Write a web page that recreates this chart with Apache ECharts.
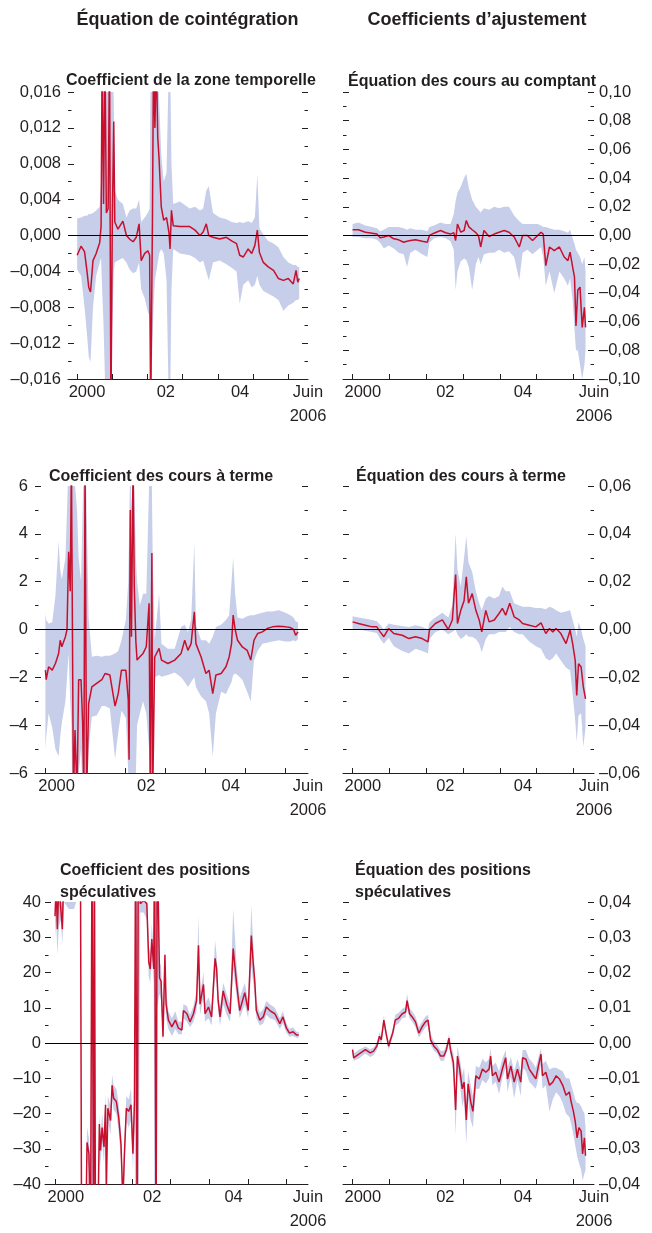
<!DOCTYPE html>
<html>
<head>
<meta charset="utf-8">
<script src="https://cdn.jsdelivr.net/npm/echarts@6.0.0/dist/echarts.min.js"></script>
<style>
html,body{margin:0;padding:0;background:#fff;}
#c{width:652px;height:1233px;}
</style>
</head>
<body>
<div id="c"></div>
<script>
// ---------- DATA ----------
// Panel 1: Coefficient de la zone temporelle
const p1Years = [2000.00,2000.11,2000.21,2000.28,2000.33,2000.38,2000.45,2000.54,2000.64,2000.68,
  2000.71,2000.75,2000.79,2000.83,2000.88,2000.92,2000.96,2001.00,2001.04,2001.07,
  2001.16,2001.30,2001.40,2001.49,2001.59,2001.68,2001.76,2001.82,2001.92,2002.01,
  2002.06,2002.09,2002.14,2002.17,2002.21,2002.25,2002.29,2002.33,2002.39,2002.46,
  2002.54,2002.61,2002.64,2002.68,2002.73,2002.92,2003.20,2003.35,2003.49,2003.58,
  2003.67,2003.74,2003.86,2004.05,2004.24,2004.39,2004.53,2004.62,2004.72,2004.86,
  2004.96,2005.05,2005.12,2005.18,2005.29,2005.43,2005.58,2005.72,2005.86,2006.00,
  2006.14,2006.22,2006.27,2006.31];
const p1Line = [-0.0022,-0.0012,-0.0018,-0.0040,-0.0058,-0.0063,-0.0028,-0.0020,-0.0008,0.0010,
  0.0200,0.0035,0.0200,0.0025,0.0030,0.0200,-0.0200,0.0020,0.0127,0.0015,
  0.0007,0.0016,0.0000,-0.0004,-0.0007,-0.0002,0.0013,-0.0028,-0.0020,-0.0017,
  -0.0022,-0.0200,0.0020,0.0200,0.0120,0.0200,0.0110,0.0084,0.0032,0.0017,
  0.0020,0.0003,-0.0015,0.0028,0.0011,0.0010,0.0010,0.0006,0.0000,0.0004,
  0.0013,0.0000,-0.0002,-0.0004,-0.0002,-0.0006,-0.0009,-0.0022,-0.0024,-0.0015,
  -0.0020,-0.0011,0.0006,-0.0019,-0.0030,-0.0035,-0.0039,-0.0048,-0.0050,-0.0048,
  -0.0054,-0.0039,-0.0052,-0.0048];
const p1Low = [-0.0038,-0.0045,-0.0080,-0.0110,-0.0135,-0.0141,-0.0080,-0.0045,-0.0030,-0.0025,
  -0.0060,-0.0100,-0.0160,-0.0200,-0.0200,-0.0200,-0.0200,-0.0100,-0.0040,-0.0030,
  -0.0028,-0.0025,-0.0030,-0.0038,-0.0042,-0.0040,-0.0030,-0.0060,-0.0070,-0.0085,
  -0.0090,-0.0200,-0.0120,-0.0080,-0.0050,-0.0040,-0.0030,-0.0020,-0.0015,-0.0020,
  -0.0050,-0.0200,-0.0200,-0.0060,-0.0015,-0.0020,-0.0022,-0.0025,-0.0030,-0.0028,
  -0.0040,-0.0050,-0.0030,-0.0028,-0.0032,-0.0036,-0.0040,-0.0076,-0.0055,-0.0050,
  -0.0058,-0.0055,-0.0045,-0.0055,-0.0062,-0.0065,-0.0068,-0.0072,-0.0084,-0.0078,
  -0.0075,-0.0072,-0.0072,-0.0070];
const p1High = [0.0019,0.0020,0.0022,0.0022,0.0024,0.0024,0.0025,0.0028,0.0032,0.0060,
  0.0200,0.0200,0.0200,0.0200,0.0200,0.0200,0.0200,0.0200,0.0150,0.0050,
  0.0040,0.0035,0.0020,0.0028,0.0030,0.0030,0.0040,0.0015,0.0020,0.0025,
  0.0030,0.0200,0.0200,0.0200,0.0200,0.0200,0.0200,0.0150,0.0090,0.0060,
  0.0070,0.0200,0.0200,0.0080,0.0035,0.0038,0.0030,0.0032,0.0028,0.0030,
  0.0050,0.0055,0.0025,0.0020,0.0018,0.0015,0.0014,0.0015,0.0014,0.0016,
  0.0014,0.0020,0.0068,0.0008,0.0001,-0.0006,-0.0009,-0.0013,-0.0024,-0.0030,
  -0.0033,-0.0033,-0.0035,-0.0035];

// Panel 2: Équation des cours au comptant
const p2Years = [2000.00,2000.16,2000.35,2000.53,2000.66,2000.75,2000.85,2000.98,2001.12,2001.25,
  2001.39,2001.48,2001.57,2001.71,2001.89,2002.03,2002.09,2002.21,2002.39,2002.53,
  2002.66,2002.75,2002.80,2002.85,2002.94,2003.03,2003.09,2003.16,2003.25,2003.35,
  2003.42,2003.48,2003.57,2003.71,2003.85,2003.98,2004.12,2004.25,2004.39,2004.53,
  2004.62,2004.75,2004.89,2005.03,2005.12,2005.18,2005.25,2005.35,2005.48,2005.62,
  2005.75,2005.85,2005.91,2005.98,2006.03,2006.07,2006.12,2006.18,2006.24,2006.30,
  2006.33];
const p2Line = [0.0040,0.0040,0.0023,0.0016,0.0010,-0.0016,-0.0010,0.0000,-0.0023,-0.0030,
  -0.0047,-0.0040,-0.0035,-0.0030,-0.0040,-0.0047,0.0000,0.0016,0.0035,0.0019,
  0.0010,0.0020,-0.0035,0.0080,0.0023,0.0035,0.0105,0.0060,0.0040,0.0020,
  0.0000,-0.0080,0.0035,-0.0007,0.0010,0.0023,0.0035,0.0023,-0.0010,-0.0080,
  0.0000,0.0000,-0.0035,0.0000,0.0023,0.0010,-0.0210,-0.0080,-0.0105,-0.0080,
  -0.0150,-0.0175,-0.0116,-0.0220,-0.0290,-0.0630,-0.0380,-0.0360,-0.0640,-0.0500,
  -0.0640];
const p2Low = [-0.001,-0.001,-0.002,-0.002,-0.003,-0.005,-0.009,-0.007,-0.009,-0.012,
  -0.013,-0.022,-0.012,-0.010,-0.013,-0.015,-0.005,-0.002,-0.001,-0.002,
  -0.004,-0.010,-0.038,-0.025,-0.018,-0.016,-0.017,-0.022,-0.038,-0.020,
  -0.015,-0.020,-0.013,-0.012,-0.012,-0.010,-0.012,-0.011,-0.015,-0.031,
  -0.012,-0.010,-0.013,-0.010,-0.008,-0.015,-0.035,-0.025,-0.040,-0.025,
  -0.030,-0.035,-0.030,-0.045,-0.065,-0.080,-0.080,-0.090,-0.100,-0.090,
  -0.080];
const p2High = [0.008,0.009,0.007,0.006,0.005,0.003,0.004,0.006,0.006,0.006,
  0.005,0.004,0.005,0.004,0.004,0.003,0.006,0.007,0.009,0.008,
  0.008,0.015,0.024,0.030,0.034,0.040,0.043,0.033,0.025,0.020,
  0.018,0.016,0.019,0.018,0.020,0.019,0.020,0.020,0.014,0.010,
  0.008,0.008,0.008,0.008,0.007,0.006,0.006,0.005,0.004,0.004,
  0.003,0.002,0.004,-0.002,-0.006,-0.010,-0.012,-0.015,-0.020,-0.015,
  -0.025];

// Panel 3: Coefficient des cours à terme
const p3Years = [2000.00,2000.02,2000.08,2000.17,2000.25,2000.33,2000.37,2000.41,2000.50,2000.54,
  2000.58,2000.62,2000.65,2000.67,2000.70,2000.74,2000.79,2000.83,2000.89,2000.93,
  2000.96,2000.99,2001.01,2001.03,2001.08,2001.16,2001.28,2001.41,2001.49,2001.61,
  2001.74,2001.82,2001.90,2002.01,2002.07,2002.09,2002.12,2002.15,2002.19,2002.22,
  2002.26,2002.29,2002.36,2002.44,2002.52,2002.59,2002.62,2002.66,2002.68,2002.73,
  2002.84,2002.90,2003.06,2003.23,2003.39,2003.48,2003.56,2003.64,2003.72,2003.76,
  2003.89,2004.01,2004.09,2004.18,2004.26,2004.39,2004.51,2004.59,2004.65,2004.69,
  2004.74,2004.80,2004.92,2005.04,2005.13,2005.21,2005.30,2005.42,2005.54,2005.67,
  2005.83,2006.00,2006.12,2006.20,2006.25,2006.31];
const p3Line = [-1.7,-2.1,-1.56,-1.7,-1.42,-1.0,-0.45,-0.72,-0.3,0.0,
  3.25,1.6,7,7,-7,-4.2,-7,-2.1,-2.1,-3.9,
  -7,7,7,-7,-3.1,-2.4,-2.25,-2.1,-1.84,-1.9,
  -3.2,-2.67,-1.7,-1.7,-2.95,-5.45,5.0,-0.3,7,1.8,
  -0.5,-1.28,-1.14,-1.0,-0.72,1.1,-7,3.2,-7,-1.15,
  -0.79,-1.28,-1.42,-1.28,-1.0,-0.45,-0.87,-0.59,0.74,-0.59,
  -1.15,-1.84,-1.7,-2.68,-1.9,-1.84,-1.56,-1.15,-0.59,0.6,
  0.0,-0.45,-0.73,-0.87,-1.28,-0.45,-0.17,-0.1,0.04,0.11,
  0.14,0.11,0.08,0.0,-0.24,-0.1];
const p3Low = [-5.0,-4.5,-3.5,-4.1,-5.0,-5.3,-4.5,-3.9,-3.0,-2.0,
  -1.0,-3,-4,-7,-7,-7,-7,-6,-5,-7,
  -7,-7,-7,-7,-5,-3.65,-3.6,-3.2,-3.2,-3.3,
  -5.4,-4.3,-3.4,-3.7,-6,-7,-7,-7,-7,-7,
  -6,-4,-3.5,-3.0,-3.5,-5,-7,-7,-7,-2.0,
  -1.9,-1.98,-1.9,-1.8,-2.0,-2.2,-2.4,-2.2,-2.0,-2.4,
  -2.8,-3.0,-3.5,-5.3,-3.5,-2.6,-2.7,-2.4,-2.2,-1.9,
  -1.84,-1.9,-2.1,-2.6,-3.0,-1.3,-0.9,-0.6,-0.55,-0.5,
  -0.45,-0.5,-0.5,-0.45,-0.5,-0.4];
const p3High = [0.67,0.4,0.25,0.3,1.4,3.7,2.5,2.1,3.0,5.0,
  7,7,7,7,7,6,5,3,2,5,
  7,7,7,5,0.5,-1.14,-1.1,-1.14,-1.1,-1.1,
  -1.0,-0.9,-0.45,0.4,2,4,7,5,7,6,
  3,2,1,1.5,1.5,6,7,6,3,-0.45,
  1.5,-0.6,-0.8,-0.8,0.1,0.2,-0.1,0.4,3.6,0.2,
  -0.45,-0.45,-0.6,-0.3,0.1,0.2,0.4,0.6,2.0,3.0,
  1.5,0.5,0.45,0.55,0.6,0.6,0.65,0.7,0.75,0.75,
  0.8,0.7,0.6,0.5,0.35,0.3];

// Panel 4: Équation des cours à terme
const p4Years = [2000.00,2000.16,2000.35,2000.53,2000.66,2000.75,2000.85,2000.98,2001.12,2001.35,
  2001.53,2001.71,2001.89,2002.05,2002.09,2002.25,2002.44,2002.60,2002.71,2002.80,
  2002.85,2002.94,2003.03,2003.09,2003.15,2003.25,2003.35,2003.44,2003.51,2003.62,
  2003.71,2003.85,2003.98,2004.07,2004.16,2004.27,2004.39,2004.53,2004.62,2004.80,
  2004.98,2005.12,2005.25,2005.35,2005.44,2005.53,2005.66,2005.80,2005.91,2005.98,
  2006.05,2006.09,2006.14,2006.21,2006.27,2006.33];
const p4Line = [0.0032,0.0025,0.0018,0.0011,0.0011,-0.0010,-0.0030,0.0004,-0.0017,-0.0024,
  -0.0038,-0.0030,-0.0038,-0.0052,0.0000,0.0025,0.0040,0.0000,0.0040,0.0230,
  0.0025,0.0080,0.0120,0.0220,0.0110,0.0150,0.0080,0.0040,-0.0010,0.0080,
  0.0032,0.0040,0.0067,0.0088,0.0060,0.0110,0.0053,0.0040,0.0025,0.0018,
  0.0011,0.0028,-0.0017,0.0004,-0.0010,0.0004,-0.0017,-0.0059,-0.0003,-0.0059,
  -0.0130,-0.0276,-0.0143,-0.0157,-0.0240,-0.0290];
const p4Low = [0.0,0.0,-0.0005,-0.001,-0.0015,-0.004,-0.006,-0.0035,-0.007,-0.009,
  -0.010,-0.008,-0.009,-0.010,-0.004,-0.001,0.0,-0.002,-0.001,0.0,
  -0.002,-0.004,-0.003,-0.002,-0.003,-0.003,-0.004,-0.006,-0.0095,-0.004,
  -0.002,-0.002,-0.001,-0.001,-0.001,0.001,-0.001,-0.002,-0.002,-0.005,
  -0.007,-0.008,-0.012,-0.013,-0.012,-0.010,-0.013,-0.016,-0.017,-0.027,
  -0.038,-0.047,-0.036,-0.035,-0.049,-0.041];
const p4High = [0.0055,0.005,0.0045,0.004,0.0035,0.002,0.0,0.0025,0.002,0.0015,
  0.001,0.0018,0.0012,0.0,0.003,0.005,0.007,0.005,0.010,0.040,
  0.025,0.018,0.030,0.039,0.028,0.024,0.016,0.011,0.008,0.013,
  0.014,0.013,0.014,0.018,0.016,0.016,0.011,0.010,0.0095,0.0095,
  0.009,0.009,0.0085,0.0095,0.009,0.008,0.007,0.0075,0.008,0.004,
  0.0,-0.003,0.003,0.0,-0.004,-0.007];

// Panel 5: Coefficient des positions spéculatives
const p5Years = [2000.00,2000.03,2000.06,2000.10,2000.15,2000.19,2000.23,2000.36,2000.49,2000.58,
  2000.66,2000.69,2000.79,2000.83,2000.88,2000.92,2000.96,2001.00,2001.02,2001.05,
  2001.12,2001.15,2001.18,2001.22,2001.27,2001.31,2001.33,2001.37,2001.44,2001.48,
  2001.52,2001.59,2001.65,2001.71,2001.76,2001.80,2001.85,2001.91,2001.97,2002.02,
  2002.06,2002.09,2002.13,2002.16,2002.21,2002.30,2002.38,2002.43,2002.47,2002.51,
  2002.56,2002.58,2002.62,2002.65,2002.71,2002.75,2002.80,2002.85,2002.88,2002.94,
  2003.03,2003.12,2003.20,2003.29,2003.33,2003.42,2003.50,2003.59,2003.67,2003.72,
  2003.76,2003.85,2003.89,2003.98,2004.06,2004.15,2004.19,2004.23,2004.28,2004.36,
  2004.45,2004.54,2004.62,2004.71,2004.79,2004.92,2005.01,2005.09,2005.14,2005.18,
  2005.22,2005.31,2005.40,2005.48,2005.57,2005.70,2005.83,2005.91,2006.00,2006.08,
  2006.17,2006.26,2006.32];
const p5Line = [36,45,32.3,45,45,32.3,50,50,50,50,
  50,-60,-60,-28.2,-31.4,-60,60,-60,60,-60,
  -45,-23,-30.5,-24,-29.5,-17.5,-42,-18.5,-22,-12,
  -15.7,-16.6,-21,-28.6,-45,-31.4,-18.5,-19.4,-17.5,-31.4,
  -16.6,60,-60,60,39.5,40.5,39.5,23,21,29.5,
  21,60,-60,60,18.5,17.5,1.8,25,11,6.5,
  4.6,6.5,4.2,3.7,9.2,8.3,6,8.3,12,27.7,
  11,16.6,8.3,10.2,7.4,24,21.2,12,7.4,14.8,
  11,8.3,26.8,16.6,9.2,14.3,9.2,30.5,22.6,17.5,
  9.2,6.5,7.4,10.2,9.2,8.3,5.5,7.4,4.2,2.8,
  3.2,2.3,2.3];
const p5Low = [30,35,25,33,35,28,40,38,38,41,
  45,-60,-60,-33,-36,-60,-60,-60,-60,-60,
  -50,-28,-35,-28,-34,-22,-45,-22,-26,-16,
  -19,-20,-25,-33,-50,-36,-22,-24,-22,-36,
  -22,-60,-60,-60,37,37,35,19,17,25,
  17,-60,-60,10,14,12,0,18,7,4,
  2,4,2.5,2.5,7,6,4.5,6,9,20,
  8,13,6,7,5,19,17,9,5,11,
  8,6,21,13,7,11,7,22,17,13,
  7,5,5.5,8,7,6.5,4,5.5,3,1.8,
  2,1.5,1.5];
const p5High = [45,50,40,50,50,45,60,60,60,60,
  60,-50,-50,-24,-27,-50,60,-50,60,-50,
  -40,-20,-27,-20,-26,-14,-38,-15,-18,-9,
  -12,-13,-17,-25,-40,-27,-15,-16,-13,-26,
  -12,60,60,60,45,45,45,28,25,34,
  25,60,60,60,23,22,8,27,15,9,
  7,9,6,6,11,10.5,8,10.5,15,36,
  14,20,11,13,10,29,25,15,10,17,
  14,11,38,22,13,17,12,39,28,20,
  12,8.5,9.5,12,11,10,7,9,5.5,4,
  4.5,3.2,3.2];

// Panel 6: Équation des positions spéculatives
const p6Years = [2000.00,2000.03,2000.16,2000.35,2000.48,2000.57,2000.66,2000.73,2000.78,2000.85,
  2000.91,2000.98,2001.03,2001.09,2001.16,2001.25,2001.35,2001.44,2001.48,2001.55,
  2001.62,2001.71,2001.80,2001.89,2001.98,2002.05,2002.12,2002.21,2002.30,2002.39,
  2002.48,2002.55,2002.62,2002.66,2002.74,2002.80,2002.85,2002.91,2002.98,2003.03,
  2003.09,2003.14,2003.21,2003.27,2003.35,2003.44,2003.53,2003.62,2003.71,2003.75,
  2003.80,2003.89,2003.98,2004.07,2004.16,2004.21,2004.30,2004.39,2004.48,2004.57,
  2004.62,2004.71,2004.80,2004.89,2004.98,2005.05,2005.12,2005.16,2005.25,2005.35,
  2005.44,2005.53,2005.62,2005.71,2005.80,2005.89,2005.94,2006.00,2006.05,2006.10,
  2006.15,2006.21,2006.25,2006.30,2006.33];
const p6Line = [-0.0019,-0.0042,-0.0032,-0.0019,-0.0028,-0.0023,-0.0009,0.0019,0.0009,0.0065,
  0.0028,-0.0009,0.0009,0.0028,0.0065,0.0070,0.0083,0.0088,0.0120,0.0083,
  0.0074,0.0060,0.0028,0.0046,0.0060,0.0065,0.0009,-0.0009,-0.0019,-0.0037,
  -0.0037,-0.0019,0.0014,-0.0019,-0.0056,-0.0190,-0.0037,-0.0074,-0.0130,-0.0111,
  -0.0218,-0.0116,-0.0167,-0.0194,-0.0093,-0.0102,-0.0074,-0.0083,-0.0074,-0.0037,
  -0.0093,-0.0083,-0.0111,-0.0074,-0.0042,-0.0102,-0.0065,-0.0111,-0.0074,-0.0111,
  -0.0042,-0.0046,-0.0074,-0.0088,-0.0102,-0.0065,-0.0032,-0.0093,-0.0083,-0.0120,
  -0.0111,-0.0093,-0.0102,-0.0120,-0.0148,-0.0139,-0.0167,-0.0194,-0.0222,-0.0269,
  -0.0240,-0.0250,-0.0315,-0.0269,-0.0320];
const p6Low = [-0.003,-0.005,-0.0045,-0.003,-0.004,-0.0035,-0.002,0.0005,-0.0005,0.005,
  0.0015,-0.002,-0.0003,0.0015,0.005,0.0055,0.007,0.0072,0.010,0.007,
  0.006,0.0045,0.0015,0.003,0.0045,0.005,-0.0005,-0.0022,-0.003,-0.005,
  -0.005,-0.003,0.0,-0.0035,-0.0085,-0.026,-0.008,-0.011,-0.018,-0.016,
  -0.0287,-0.016,-0.022,-0.024,-0.013,-0.013,-0.0105,-0.0115,-0.010,-0.0065,
  -0.012,-0.011,-0.0145,-0.010,-0.007,-0.014,-0.0095,-0.0157,-0.0105,-0.015,
  -0.007,-0.008,-0.011,-0.012,-0.013,-0.010,-0.006,-0.013,-0.012,-0.0194,
  -0.016,-0.014,-0.015,-0.017,-0.020,-0.021,-0.023,-0.026,-0.029,-0.032,
  -0.034,-0.036,-0.039,-0.037,-0.036];
const p6High = [-0.001,-0.003,-0.002,-0.001,-0.0018,-0.0013,0.0002,0.003,0.002,0.0078,
  0.004,0.0002,0.002,0.004,0.008,0.0085,0.0097,0.0102,0.014,0.0098,
  0.009,0.0075,0.0045,0.006,0.0075,0.008,0.0025,0.0005,-0.0005,-0.0022,
  -0.0022,-0.0005,0.0025,-0.0005,-0.003,-0.014,-0.001,-0.004,-0.009,-0.007,
  -0.017,-0.008,-0.012,-0.015,-0.0065,-0.007,-0.0045,-0.0055,-0.0045,-0.0015,
  -0.0065,-0.0055,-0.008,-0.0045,-0.002,-0.007,-0.004,-0.008,-0.0045,-0.008,
  -0.002,-0.002,-0.0045,-0.0055,-0.007,-0.004,-0.0015,-0.006,-0.005,-0.0075,
  -0.007,-0.007,-0.0075,-0.008,-0.010,-0.010,-0.012,-0.014,-0.016,-0.017,
  -0.017,-0.018,-0.019,-0.020,-0.024];

// Axis tick positions / labels
const yearTicks = [2000, 2001, 2002, 2003, 2004, 2005, 2006];
const xLabelPos = [2000.28, 2002.52, 2004.63];
const xLabelText = ['2000', '02', '04'];
const lastLabel = 'Juin\n2006';
const X_MIN = 1999.74, X_MAX = 2006.56;

const mainTitles = ['Équation de cointégration', 'Coefficients d’ajustement'];
const subTitles = [
  ['Coefficient de la zone temporelle'],
  ['Équation des cours au comptant'],
  ['Coefficient des cours à terme'],
  ['Équation des cours à terme'],
  ['Coefficient des positions', 'spéculatives'],
  ['Équation des positions', 'spéculatives']
];

// ---------- STYLE / LAYOUT ----------
const RED = '#c8102e';
const BAND = '#c6cee9';
const INK = '#231f20';
const LABEL_FONT = '"Liberation Sans", Arial, sans-serif';
const BOLD = '"Liberation Sans", Arial, sans-serif';
const LABEL_SIZE = 16.5;

const panels = [
  {x:p1Years, m:p1Line, lo:p1Low, hi:p1High, min:-0.016, max:0.016, iv:0.004, dec:3, side:'left',
   grid:{left:68, top:92, width:240, height:287}, lm:7, sub:{x:66, y:81}},
  {x:p2Years, m:p2Line, lo:p2Low, hi:p2High, min:-0.10, max:0.10, iv:0.02, dec:2, side:'right',
   grid:{left:343, top:92, width:251, height:287}, lm:5, sub:{x:348, y:82}},
  {x:p3Years, m:p3Line, lo:p3Low, hi:p3High, min:-6, max:6, iv:2, dec:0, side:'left',
   grid:{left:35, top:486, width:273, height:287}, lm:7, sub:{x:49, y:477}},
  {x:p4Years, m:p4Line, lo:p4Low, hi:p4High, min:-0.06, max:0.06, iv:0.02, dec:2, side:'right',
   grid:{left:343, top:486, width:251, height:287}, lm:5, sub:{x:356, y:477}},
  {x:p5Years, m:p5Line, lo:p5Low, hi:p5High, min:-40, max:40, iv:10, dec:0, side:'left',
   grid:{left:45, top:902, width:263, height:288}, lm:4, sub:{x:60, y:871}},
  {x:p6Years, m:p6Line, lo:p6Low, hi:p6High, min:-0.04, max:0.04, iv:0.01, dec:2, side:'right',
   grid:{left:343, top:902, width:251, height:288}, lm:5, sub:{x:355, y:871}}
];

function fmt(v, dec) {
  const s = Math.abs(v).toFixed(dec).replace('.', ',');
  return (v < -1e-9 ? '\u2013' : '') + s;
}
function zip() {
  const cols = Array.prototype.slice.call(arguments);
  const n = Math.min.apply(null, cols.map(c => c.length)), out = [];
  for (let i = 0; i < n; i++) out.push(cols.map(c => c[i]));
  return out;
}

const grids = [], xAxes = [], yAxes = [], series = [], graphic = [];

panels.forEach((p, i) => {
  grids.push(Object.assign({containLabel:false}, p.grid));
  xAxes.push({
    gridIndex: i, type: 'value', min: X_MIN, max: X_MAX,
    axisLine: {show: true, onZero: false, lineStyle: {color: INK, width: 1}},
    axisTick: {show: true, inside: true, length: 5, customValues: yearTicks, lineStyle: {color: INK, width: 1}},
    axisLabel: {
      customValues: xLabelPos.concat([X_MAX]),
      formatter: v => {
        if (v > 2006) return lastLabel;
        let best = 0;
        xLabelPos.forEach((q, k) => { if (Math.abs(q - v) < Math.abs(xLabelPos[best] - v)) best = k; });
        return xLabelText[best];
      },
      color: INK, fontFamily: LABEL_FONT, fontSize: LABEL_SIZE, lineHeight: 24, margin: 1
    },
    splitLine: {show: false}
  });
  ['left', 'right'].forEach(pos => {
    yAxes.push({
      gridIndex: i, type: 'value', position: pos, min: p.min, max: p.max, interval: p.iv,
      axisLine: {show: false, onZero: false},
      axisTick: {show: true, inside: true, length: 6, lineStyle: {color: INK, width: 1}},
      minorTick: {show: true, splitNumber: 2, length: 3.5, lineStyle: {color: INK, width: 1}},
      splitLine: {show: false}, minorSplitLine: {show: false},
      axisLabel: {show: pos === p.side, margin: p.lm, color: INK, fontFamily: LABEL_FONT, fontSize: LABEL_SIZE,
        formatter: v => fmt(v, p.dec)}
    });
  });
  const yi = 2 * i;
  // confidence band: one polygon through the axis scales (upper edge forward, lower edge back)
  series.push({
    type: 'custom', xAxisIndex: i, yAxisIndex: yi, silent: true, z: 1,
    data: zip(p.x, p.lo, p.hi),
    encode: {x: 0, y: [1, 2]},
    renderItem: (params, api) => {
      if (params.dataIndex !== 0) return null;
      const n = Math.min(p.x.length, p.lo.length, p.hi.length);
      const pts = [];
      for (let k = 0; k < n; k++) pts.push(api.coord([p.x[k], p.hi[k]]));
      for (let k = n - 1; k >= 0; k--) pts.push(api.coord([p.x[k], p.lo[k]]));
      const cs = params.coordSys;
      return {
        type: 'polygon', shape: {points: pts}, style: {fill: BAND, stroke: null},
        clipPath: {type: 'rect', shape: {x: cs.x, y: cs.y, width: cs.width, height: cs.height}}
      };
    }
  });
  series.push({
    type: 'line', xAxisIndex: i, yAxisIndex: yi, data: zip(p.x, p.m), symbol: 'none', showSymbol: false,
    lineStyle: {color: RED, width: 1.5}, z: 3, silent: true,
    markLine: {silent: true, symbol: ['none', 'none'], label: {show: false}, animation: false,
      lineStyle: {color: '#000', width: 1, type: 'solid'}, data: [{yAxis: 0}]}
  });
  subTitles[i].forEach((t, k) => {
    graphic.push({type: 'text', x: p.sub.x, y: p.sub.y + k * 22, z: 10,
      style: {text: t, fill: INK, fontFamily: BOLD, fontWeight: 'bold', fontSize: 16,
        align: 'left', verticalAlign: 'middle'}});
  });
});

graphic.push({type: 'text', x: 187.5, y: 20, style: {text: mainTitles[0], fill: INK, fontFamily: BOLD,
  fontWeight: 'bold', fontSize: 18, align: 'center', verticalAlign: 'middle'}});
graphic.push({type: 'text', x: 477, y: 20, style: {text: mainTitles[1], fill: INK, fontFamily: BOLD,
  fontWeight: 'bold', fontSize: 18, align: 'center', verticalAlign: 'middle'}});

const chart = echarts.init(document.getElementById('c'), null, {renderer: 'canvas'});
chart.setOption({
  animation: false,
  backgroundColor: '#ffffff',
  grid: grids, xAxis: xAxes, yAxis: yAxes, series: series, graphic: graphic
});
</script>
</body>
</html>
